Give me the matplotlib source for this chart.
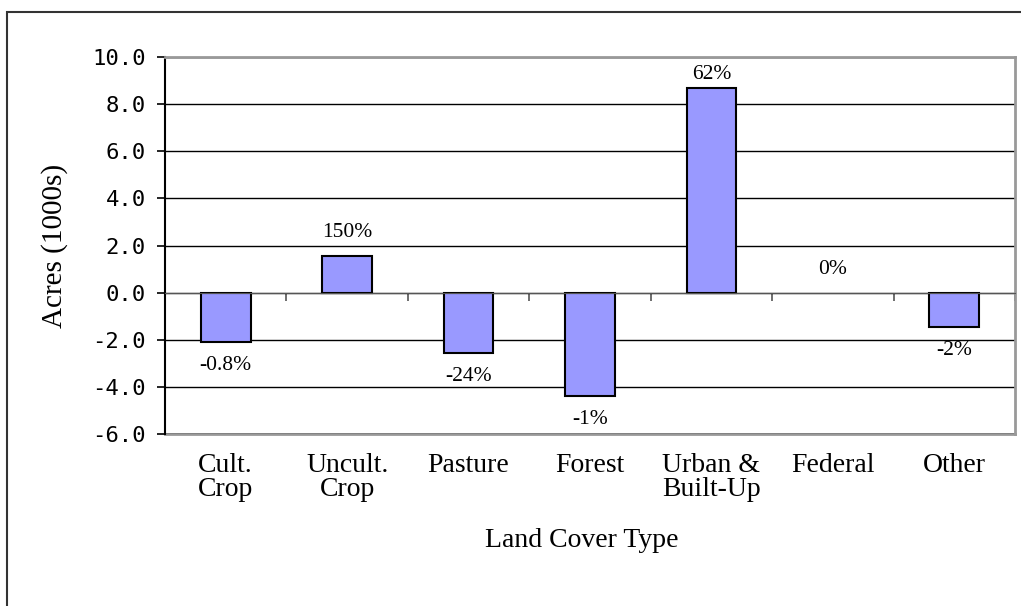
import numpy as np
import matplotlib.pyplot as plt
from matplotlib.patches import Rectangle

# values
categories = ["Cult.\nCrop", "Uncult.\nCrop", "Pasture", "Forest", "Urban &\nBuilt-Up", "Federal", "Other"]
acres = [-2.1, 1.55, -2.55, -4.4, 8.7, 0.0, -1.45]
pct_labels = ["-0.8%", "150%", "-24%", "-1%", "62%", "0%", "-2%"]

serif = "Liberation Serif"

fig = plt.figure(figsize=(10.21, 6.06), dpi=100)
ax = fig.add_axes([165 / 1021, 1 - 434 / 606, 850 / 1021, 377 / 606])

# outer chart border (runs off the right/bottom of the picture)
fig.patches.append(Rectangle((7 / 1021, -0.1), 1.2, 1 - 12 / 606 + 0.1, transform=fig.transFigure,
                             fill=False, edgecolor="#333333", linewidth=1.5))

x = np.arange(len(categories))
vals = np.array(acres)
edges = ["black" if v != 0 else "none" for v in vals]
ax.bar(x, vals, width=0.41, color="#9999ff", edgecolor=edges, linewidth=1.5, zorder=3)

ax.set_xlim(-0.5, len(categories) - 0.5)
ax.set_ylim(-6, 10)
ax.set_yticks(np.arange(-6, 11, 2))
ax.yaxis.set_major_formatter(plt.FormatStrFormatter("%.1f"))
ax.tick_params(axis="y", direction="out", length=6, width=1.2, pad=8, labelsize=16)
for lab in ax.get_yticklabels():
    lab.set_fontfamily("DejaVu Sans Mono")
ax.grid(axis="y", color="black", linewidth=1, zorder=0)

# zero line with ticks between the categories
ax.spines["bottom"].set_position(("data", 0))
ax.spines["bottom"].set_color("#555555")
ax.spines["bottom"].set_zorder(4)
ax.set_xticks(np.arange(-0.5, len(categories)))
ax.tick_params(axis="x", direction="out", length=6, width=1.2, color="#555555", labelbottom=False)

ax.spines["left"].set_color("black")
ax.spines["left"].set_linewidth(1.5)
for s in ["top", "right"]:
    ax.spines[s].set_color("#999999")
    ax.spines[s].set_linewidth(2)

# category labels on the bottom edge of the plot area
sec = ax.secondary_xaxis("bottom")
sec.set_xticks(x)
sec.set_xticklabels(categories, fontfamily=serif, fontsize=20, linespacing=0.95)
sec.tick_params(length=0, pad=14)
sec.spines["bottom"].set_color("#999999")
sec.spines["bottom"].set_linewidth(2)

# percentage labels
lab_y = np.where(vals >= 0, vals + 1.0, vals - 1.0)
lab_y = np.minimum(lab_y, 9.25)
for xi, yi, t in zip(x, lab_y, pct_labels):
    ax.text(xi, yi, t, ha="center", va="center", fontfamily=serif, fontsize=15.5)

ax.set_ylabel("Acres (1000s)", fontfamily=serif, fontsize=21)
ax.yaxis.set_label_coords(-0.114, 0.5)
ax.set_xlabel("Land Cover Type", fontfamily=serif, fontsize=20)
ax.xaxis.set_label_coords(0.49, -0.25)

fig.savefig("out.png", dpi=100)
